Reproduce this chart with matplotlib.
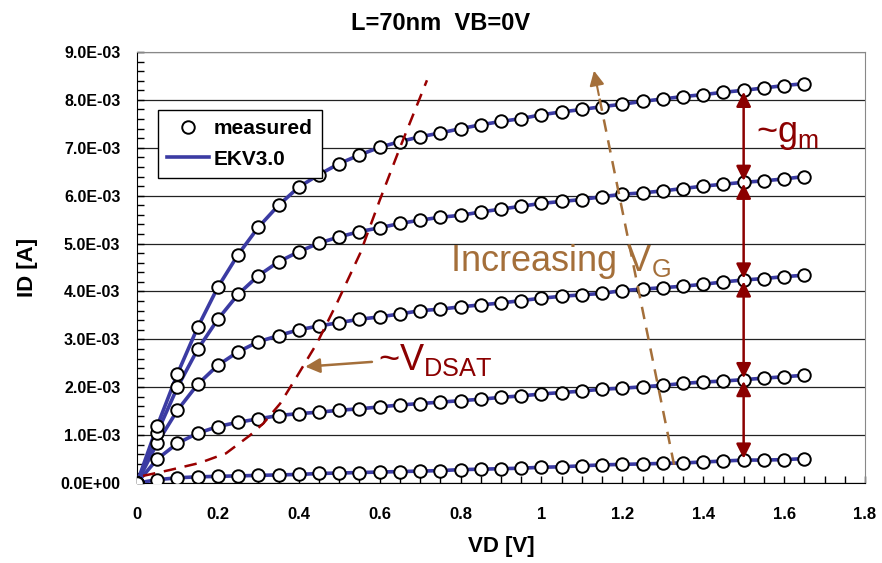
import numpy as np
import matplotlib.pyplot as plt
from matplotlib.ticker import MultipleLocator, FormatStrFormatter

plt.rcParams['font.family'] = ['Liberation Sans', 'DejaVu Sans']

# drain voltage sweep [V]
vd = [0.0, 0.05, 0.1, 0.15, 0.2, 0.25, 0.3, 0.35, 0.4, 0.45, 0.5, 0.55, 0.6, 0.65, 0.7, 0.75, 0.8,
      0.85, 0.9, 0.95, 1.0, 1.05, 1.1, 1.15, 1.2, 1.25, 1.3, 1.35, 1.4, 1.45, 1.5, 1.55, 1.6, 1.65]

# drain current [mA], one list per gate voltage (low -> high)
id_vg1 = [0, 0.07, 0.11, 0.13, 0.14, 0.15, 0.16, 0.17, 0.18, 0.20, 0.21, 0.22, 0.23, 0.24, 0.25, 0.26, 0.28,
          0.29, 0.30, 0.31, 0.33, 0.34, 0.36, 0.38, 0.39, 0.40, 0.41, 0.42, 0.44, 0.46, 0.48, 0.48, 0.49, 0.51]
id_vg2 = [0, 0.50, 0.83, 1.04, 1.18, 1.27, 1.34, 1.41, 1.45, 1.48, 1.52, 1.55, 1.59, 1.63, 1.66, 1.69, 1.72,
          1.75, 1.79, 1.82, 1.86, 1.89, 1.92, 1.96, 1.98, 2.01, 2.04, 2.08, 2.11, 2.13, 2.16, 2.19, 2.22, 2.25]
id_vg3 = [0, 0.835, 1.52, 2.06, 2.46, 2.74, 2.95, 3.08, 3.20, 3.28, 3.35, 3.42, 3.47, 3.53, 3.60, 3.63, 3.68,
          3.72, 3.76, 3.81, 3.86, 3.90, 3.93, 3.96, 4.02, 4.05, 4.08, 4.11, 4.15, 4.20, 4.24, 4.27, 4.31, 4.34]
id_vg4 = [0, 1.05, 2.00, 2.79, 3.42, 3.94, 4.33, 4.62, 4.83, 5.01, 5.14, 5.25, 5.33, 5.42, 5.49, 5.55, 5.59,
          5.66, 5.72, 5.78, 5.84, 5.88, 5.92, 5.98, 6.03, 6.06, 6.10, 6.15, 6.20, 6.24, 6.28, 6.31, 6.35, 6.40]
id_vg5 = [0, 1.19, 2.28, 3.25, 4.09, 4.77, 5.34, 5.80, 6.18, 6.44, 6.67, 6.85, 7.01, 7.13, 7.23, 7.31, 7.40,
          7.48, 7.55, 7.61, 7.69, 7.75, 7.80, 7.86, 7.91, 7.97, 8.02, 8.07, 8.11, 8.16, 8.20, 8.25, 8.30, 8.34]
curves = [id_vg1, id_vg2, id_vg3, id_vg4, id_vg5]

# ~VDSAT locus [V], [mA]
vdsat_x = [0.015, 0.08, 0.155, 0.22, 0.28, 0.313, 0.354, 0.395, 0.445, 0.494, 0.552, 0.6, 0.651, 0.717]
vdsat_y = [0.15, 0.27, 0.42, 0.62, 1.0, 1.25, 1.66, 2.22, 2.92, 3.75, 4.80, 5.9, 7.02, 8.41]

# gm arrows at VD = 1.5 V
gm_vd = 1.5
gm_levels = [0.48, 2.16, 4.24, 6.28, 8.20]

dark_red = '#8B0000'
brown = '#A46F3A'
blue = '#3B3BA3'

fig = plt.figure(figsize=(8.82, 5.63), dpi=100)
ax = fig.add_axes([0.1553, 0.142, 0.8254, 0.7656])

vd_arr = np.array(vd)
for i, c in enumerate(curves):
    y = np.array(c) * 1e-3
    ax.plot(vd_arr, y, color=blue, lw=2.6, zorder=3,
            label='EKV3.0' if i == 0 else None)
    ax.plot(vd_arr, y, 'o', ms=9, mfc='white', mec='black', mew=1.4, zorder=4,
            label='measured' if i == 0 else None)

ax.plot(vdsat_x, np.array(vdsat_y) * 1e-3, '--', color='#990000', lw=1.8,
        dashes=(5, 3.5), zorder=5)

# gm double arrows
for lo, hi in zip(gm_levels[:-1], gm_levels[1:]):
    ax.annotate('', xy=(gm_vd, hi * 1e-3), xytext=(gm_vd, lo * 1e-3),
                arrowprops=dict(arrowstyle='<|-|>', color=dark_red, lw=1.8,
                                mutation_scale=22, shrinkA=1, shrinkB=1), zorder=6)

# increasing VG dashed arrow
ax.plot([1.328, 1.142], [0.38e-3, 8.1e-3], '--', color=brown, lw=1.8, dashes=(5, 3.5), zorder=6)
ax.annotate('', xy=(1.13, 8.61e-3), xytext=(1.142, 8.1e-3),
            arrowprops=dict(arrowstyle='-|>', color=brown, lw=1.5, mutation_scale=22,
                            shrinkA=0, shrinkB=0), zorder=6)

# VDSAT pointer
ax.annotate('', xy=(0.416, 2.43e-3), xytext=(0.581, 2.53e-3),
            arrowprops=dict(arrowstyle='-|>', color=brown, lw=1.8, mutation_scale=22,
                            shrinkA=0, shrinkB=0), zorder=6)

ax.text(0.595, 2.36e-3, r'~V$_\mathregular{DSAT}$', color=dark_red, fontsize=26, zorder=7)
ax.text(0.773, 4.42e-3, r'Increasing V$_\mathregular{G}$', color=brown, fontsize=26, zorder=7)
ax.text(1.53, 7.12e-3, r'~g$_\mathregular{m}$', color=dark_red, fontsize=26, zorder=7)

ax.set_xlim(0, 1.8)
ax.set_ylim(0, 9e-3)
ax.xaxis.set_major_locator(MultipleLocator(0.2))
ax.xaxis.set_minor_locator(MultipleLocator(0.05))
ax.yaxis.set_major_locator(MultipleLocator(1e-3))
ax.yaxis.set_minor_locator(MultipleLocator(2e-4))
ax.yaxis.set_major_formatter(FormatStrFormatter('%.1E'))
ax.xaxis.set_major_formatter(FormatStrFormatter('%g'))
ax.tick_params(which='both', direction='in', length=5, width=1)
ax.tick_params(axis='y', which='major', pad=12, labelsize=11.5)
ax.tick_params(axis='x', which='major', pad=17, labelsize=12)
for lab in ax.get_xticklabels() + ax.get_yticklabels():
    lab.set_fontweight('bold')

ax.grid(axis='y', which='major', color='#222222', lw=0.9)
ax.set_axisbelow(True)
ax.spines['top'].set_color('#888888')
ax.spines['right'].set_color('#888888')

ax.set_xlabel('VD [V]', fontsize=16, fontweight='bold', labelpad=10)
ax.set_ylabel('ID [A]', fontsize=16, fontweight='bold', labelpad=16)
fig.suptitle('L=70nm  VB=0V', fontsize=17, fontweight='bold', x=0.5, y=0.978, va='top')

handles, labels = ax.get_legend_handles_labels()
leg = ax.legend([handles[1], handles[0]], [labels[1], labels[0]],
                loc='upper left', bbox_to_anchor=(0.029, 0.866), borderaxespad=0,
                fancybox=False, framealpha=1, edgecolor='black',
                prop=dict(weight='bold', size=15),
                handlelength=2.0, borderpad=0.45, labelspacing=0.55, handletextpad=0.2)
leg.get_frame().set_linewidth(1.0)
leg.set_zorder(10)

fig.savefig('out.png', dpi=100)
